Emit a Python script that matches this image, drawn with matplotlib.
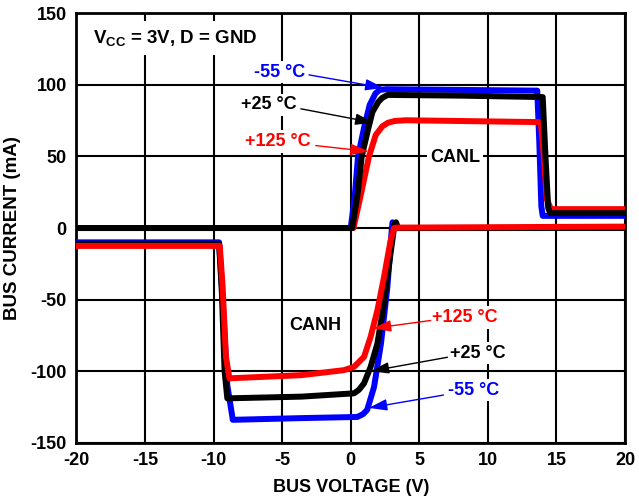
import matplotlib
matplotlib.use("Agg")
import matplotlib.pyplot as plt

plt.rcParams['font.family'] = ['Liberation Sans', 'DejaVu Sans']
plt.rcParams['font.weight'] = 'bold'
plt.rcParams['axes.unicode_minus'] = False
plt.rcParams['mathtext.fontset'] = 'custom'
plt.rcParams['mathtext.rm'] = 'Liberation Sans:bold'
plt.rcParams['mathtext.bf'] = 'Liberation Sans:bold'
plt.rcParams['mathtext.it'] = 'Liberation Sans:bold'

# ---- data (bus voltage V, bus current mA) ----
canl_m55_v = [-20, 0.0, 0.3, 0.53, 0.97, 1.38, 1.8, 2.1, 2.6, 8, 13.6, 13.75, 13.9, 14.0, 20]
canl_m55_i = [0, 0, 23, 50, 70, 86, 94, 96.5, 97, 96.5, 96, 60, 15, 8.5, 8.5]

canl_25_v = [-20, 0.1, 0.49, 0.8, 1.29, 1.58, 2.0, 2.3, 2.7, 8, 14.0, 14.2, 14.4, 14.55, 20]
canl_25_i = [0, 0, 23, 50, 70, 81, 88, 91, 93, 92.5, 91.5, 50, 14, 10.4, 10.4]

canl_125_v = [-20, 0.2, 0.73, 1.33, 1.82, 2.3, 2.7, 3.2, 4.0, 13.85, 14.0, 14.3, 14.6, 20]
canl_125_i = [0, 0, 23, 50, 65, 71, 73.5, 74.8, 75.3, 74, 60, 20, 13.2, 13.2]

canh_m55_v = [-20, -9.6, -9.4, -9.0, -8.6, -3.6, 0.48, 0.9, 1.2, 1.7, 2.2, 2.67, 3.0, 3.05, 3.2, 20]
canh_m55_i = [-10, -10, -40, -110, -134, -132.8, -132, -130, -127, -111, -81, -41.5, 0, 4, 0, 0]

canh_25_v = [-20, -9.6, -9.4, -9.2, -9.0, -3.6, 0.24, 0.6, 0.97, 1.45, 1.94, 2.42, 2.9, 3.2, 3.3, 3.45, 20]
canh_25_i = [-11, -11, -45, -100, -119, -117.8, -115.5, -113, -108.5, -97, -80.8, -53, -18, 3, 4, 0, 0]

canh_125_v = [-20, -9.55, -9.35, -9.1, -8.85, -3.6, -0.5, 0.24, 0.97, 1.45, 1.94, 2.42, 2.9, 3.15, 3.4, 20]
canh_125_i = [-12.5, -12.5, -40, -90, -105, -102.8, -99.3, -97, -90, -76, -57.6, -34.5, -9, 0, 0.3, 1]

xticks = [-20, -15, -10, -5, 0, 5, 10, 15, 20]
yticks = [-150, -100, -50, 0, 50, 100, 150]

BLUE = '#0000ff'
RED = '#ff0000'
BLACK = '#000000'

fig = plt.figure(figsize=(6.39, 4.98), dpi=100)
ax = fig.add_axes([0.1197, 0.111, 0.8584, 0.8622])

lw = 4.3
ax.plot(canl_m55_v, canl_m55_i, color=BLUE, lw=lw, zorder=3, solid_joinstyle='round')
ax.plot(canl_125_v, canl_125_i, color=RED, lw=lw, zorder=4, solid_joinstyle='round')
ax.plot(canl_25_v, canl_25_i, color=BLACK, lw=lw, zorder=5, solid_joinstyle='round')
ax.plot(canh_m55_v, canh_m55_i, color=BLUE, lw=lw, zorder=3, solid_joinstyle='round')
ax.plot(canh_25_v, canh_25_i, color=BLACK, lw=lw, zorder=4, solid_joinstyle='round')
ax.plot(canh_125_v, canh_125_i, color=RED, lw=lw, zorder=5, solid_joinstyle='round')

ax.set_xlim(-20, 20)
ax.set_ylim(-150, 150)
ax.set_xticks(xticks, labels=[str(t) for t in xticks], fontweight='bold', fontsize=13)
ax.set_yticks(yticks, labels=[str(t) for t in yticks], fontweight='bold', fontsize=13)
ax.grid(True, color='black', lw=1.5)
ax.set_axisbelow(True)
for s in ax.spines.values():
    s.set_linewidth(2)
ax.tick_params(length=0, pad=7)

ax.set_xlabel('BUS VOLTAGE (V)', fontsize=13, fontweight='bold', labelpad=7)
ax.set_ylabel('BUS CURRENT (mA)', fontsize=13.5, fontweight='bold', labelpad=7)

bb = dict(facecolor='white', edgecolor='none', pad=2)

ax.text(-12.8, 133, r'V$_{\mathbf{CC}}$ = 3V, D = GND', fontsize=13.5, fontweight='bold',
        ha='center', va='center', bbox=dict(facecolor='white', edgecolor='none', pad=5), zorder=2)
ax.text(7.6, 49.5, 'CANL', fontsize=13, fontweight='bold', ha='center', va='center', bbox=bb, zorder=2)
ax.text(-2.6, -68, 'CANH', fontsize=13, fontweight='bold', ha='center', va='center', bbox=bb, zorder=2)

ann = [
    ('-55 °C', BLUE, (-5.16, 109), (-3.05, 107), (2.4, 97.9)),
    ('+25 °C', BLACK, (-5.96, 86.1), (-3.64, 83.3), (1.67, 73.6)),
    ('+125 °C', RED, (-5.31, 60.4), (-2.55, 57.6), (1.31, 53.5)),
    ('+125 °C', RED, (8.29, -62.5), (5.82, -64.6), (1.6, -70.1)),
    ('+25 °C', BLACK, (9.24, -87.5), (7.05, -90.3), (1.45, -100)),
    ('-55 °C', BLUE, (8.95, -113.2), (6.76, -116.7), (1.31, -125.7)),
]
for txt, col, tpos, tail, tip in ann:
    ax.text(tpos[0], tpos[1], txt, color=col, fontsize=13, fontweight='bold',
            ha='center', va='center', bbox=bb, zorder=2)
    ax.annotate('', xy=tip, xytext=tail,
                arrowprops=dict(arrowstyle='-|>,head_length=0.8,head_width=0.25',
                                color=col, lw=1, mutation_scale=14,
                                shrinkA=0, shrinkB=0),
                zorder=6)

fig.savefig('out.png', dpi=100)
